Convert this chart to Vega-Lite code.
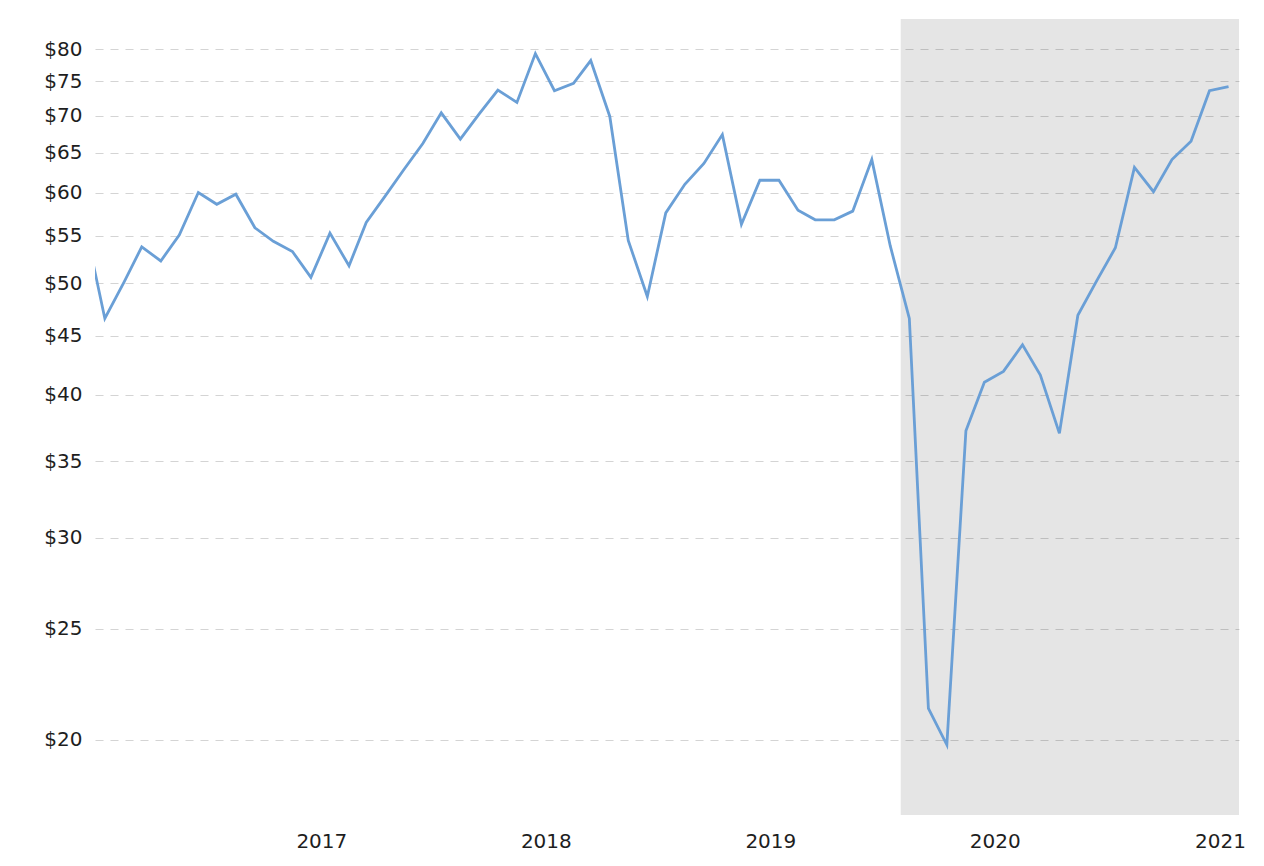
{
  "$schema": "https://vega.github.io/schema/vega-lite/v6.json",
  "width": 1144,
  "height": 796,
  "autosize": {"type": "none"},
  "padding": {"left": 95, "top": 19, "right": 25, "bottom": 51},
  "background": "white",
  "config": {
    "view": {"stroke": null},
    "axis": {"labelFont": "DejaVu Sans", "labelFontSize": 20, "labelColor": "#1e1e1e", "domain": false, "ticks": false}
  },
  "datasets": {
    "band": [{"start": "2019-08-01", "end": "2021-02-01"}],
    "prices": [
      {"date": "2015-12-15", "price": 55.8},
      {"date": "2016-01-15", "price": 46.6},
      {"date": "2016-02-15", "price": 50.1},
      {"date": "2016-03-15", "price": 53.8},
      {"date": "2016-04-15", "price": 52.3},
      {"date": "2016-05-15", "price": 55.1},
      {"date": "2016-06-15", "price": 60.0},
      {"date": "2016-07-15", "price": 58.6},
      {"date": "2016-08-15", "price": 59.8},
      {"date": "2016-09-15", "price": 55.9},
      {"date": "2016-10-15", "price": 54.4},
      {"date": "2016-11-15", "price": 53.3},
      {"date": "2016-12-15", "price": 50.6},
      {"date": "2017-01-15", "price": 55.3},
      {"date": "2017-02-15", "price": 51.8},
      {"date": "2017-03-15", "price": 56.5},
      {"date": "2017-04-15", "price": 59.6},
      {"date": "2017-05-15", "price": 62.8},
      {"date": "2017-06-15", "price": 66.2},
      {"date": "2017-07-15", "price": 70.4},
      {"date": "2017-08-15", "price": 66.8},
      {"date": "2017-09-15", "price": 70.3},
      {"date": "2017-10-15", "price": 73.7},
      {"date": "2017-11-15", "price": 71.9},
      {"date": "2017-12-15", "price": 79.3},
      {"date": "2018-01-15", "price": 73.6},
      {"date": "2018-02-15", "price": 74.7},
      {"date": "2018-03-15", "price": 78.2},
      {"date": "2018-04-15", "price": 69.9},
      {"date": "2018-05-15", "price": 54.5},
      {"date": "2018-06-15", "price": 48.7},
      {"date": "2018-07-15", "price": 57.6},
      {"date": "2018-08-15", "price": 61.0},
      {"date": "2018-09-15", "price": 63.6},
      {"date": "2018-10-15", "price": 67.4},
      {"date": "2018-11-15", "price": 56.3},
      {"date": "2018-12-15", "price": 61.5},
      {"date": "2019-01-15", "price": 61.5},
      {"date": "2019-02-15", "price": 57.9},
      {"date": "2019-03-15", "price": 56.8},
      {"date": "2019-04-15", "price": 56.8},
      {"date": "2019-05-15", "price": 57.8},
      {"date": "2019-06-15", "price": 64.1},
      {"date": "2019-07-15", "price": 53.9},
      {"date": "2019-08-15", "price": 46.6},
      {"date": "2019-09-15", "price": 21.3},
      {"date": "2019-10-15", "price": 19.8},
      {"date": "2019-11-15", "price": 37.2},
      {"date": "2019-12-15", "price": 41.0},
      {"date": "2020-01-15", "price": 41.9},
      {"date": "2020-02-15", "price": 44.2},
      {"date": "2020-03-15", "price": 41.6},
      {"date": "2020-04-15", "price": 37.0},
      {"date": "2020-05-15", "price": 46.9},
      {"date": "2020-06-15", "price": 50.3},
      {"date": "2020-07-15", "price": 53.7},
      {"date": "2020-08-15", "price": 63.1},
      {"date": "2020-09-15", "price": 60.1},
      {"date": "2020-10-15", "price": 64.1},
      {"date": "2020-11-15", "price": 66.5},
      {"date": "2020-12-15", "price": 73.6},
      {"date": "2021-01-15", "price": 74.2}
    ]
  },
  "layer": [
    {
      "data": {"name": "band"},
      "mark": {"type": "rect", "fill": "#000000", "opacity": 0.1, "clip": true},
      "encoding": {
        "x": {
          "field": "start", "type": "temporal", "title": null,
          "scale": {"type": "utc", "domain": [{"year": 2015, "month": 12, "date": 30, "utc": true}, {"year": 2021, "month": 2, "date": 1, "utc": true}]}
        },
        "x2": {"field": "end"}
      }
    },
    {
      "data": {"name": "prices"},
      "mark": {"type": "line", "color": "#6a9fd6", "strokeWidth": 2.8, "clip": true},
      "encoding": {
        "x": {
          "field": "date", "type": "temporal", "title": null,
          "scale": {"type": "utc", "domain": [{"year": 2015, "month": 12, "date": 30, "utc": true}, {"year": 2021, "month": 2, "date": 1, "utc": true}]},
          "axis": {
            "values": [
              {"year": 2017, "month": 1, "date": 1, "utc": true},
              {"year": 2018, "month": 1, "date": 1, "utc": true},
              {"year": 2019, "month": 1, "date": 1, "utc": true},
              {"year": 2020, "month": 1, "date": 1, "utc": true},
              {"year": 2021, "month": 1, "date": 1, "utc": true}
            ],
            "format": "%Y", "grid": false, "labelPadding": 16, "labelFlush": false, "labelOverlap": false
          }
        },
        "y": {
          "field": "price", "type": "quantitative", "title": null,
          "scale": {"type": "log", "domain": [17.2, 85], "nice": false},
          "axis": {
            "values": [20, 25, 30, 35, 40, 45, 50, 55, 60, 65, 70, 75, 80],
            "labelExpr": "'$' + datum.value",
            "grid": true, "gridColor": "#d4d4d4", "gridDash": [8, 7], "gridWidth": 1.2,
            "labelPadding": 13, "labelOverlap": false
          }
        }
      }
    }
  ]
}
